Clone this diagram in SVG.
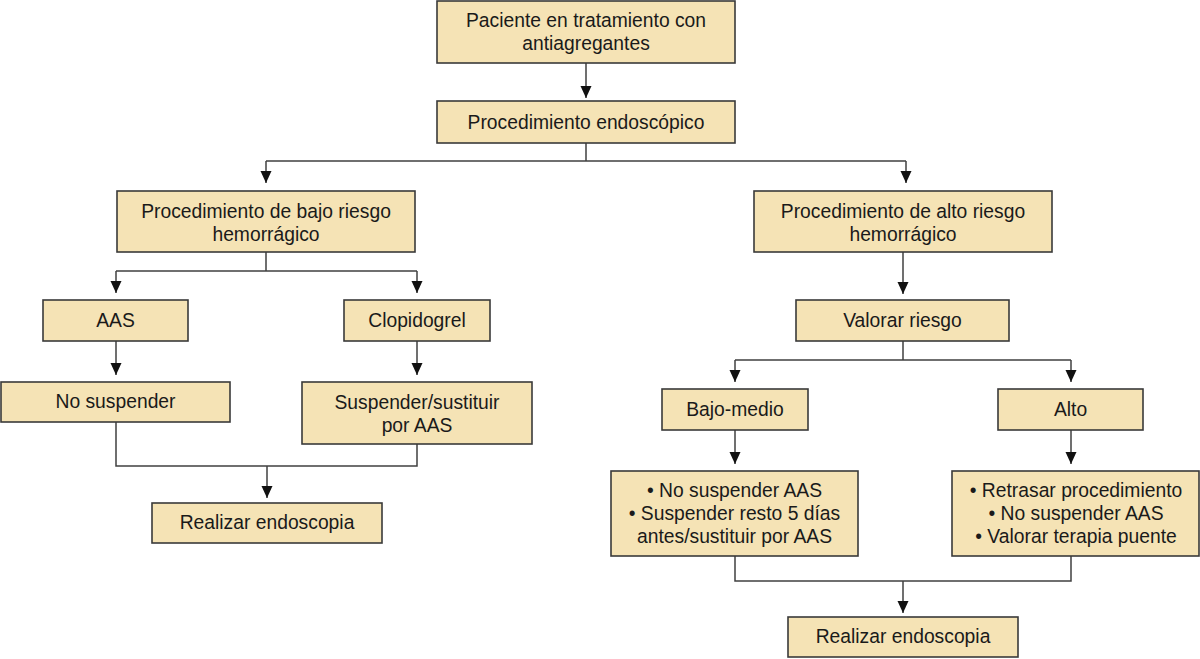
<svg xmlns="http://www.w3.org/2000/svg" width="1200" height="659" viewBox="0 0 1200 659">
<defs>
<style>
.box{fill:#f5e3b5;stroke:#3a3a3a;stroke-width:1.6}
.t{font-family:"Liberation Sans",Arial,sans-serif;font-size:19.3px;fill:#1a1a1a;text-anchor:middle}
.c{fill:none;stroke:#404040;stroke-width:1.5}
</style>
<marker id="ah" markerUnits="userSpaceOnUse" markerWidth="12" markerHeight="12" viewBox="0 0 12 12" refX="12" refY="6" orient="auto">
<path d="M0,0.5 L12,6 L0,11.5 z" fill="#111"/>
</marker>
</defs>
<rect width="1200" height="659" fill="#ffffff"/>
<g id="connectors">
<path class="c" d="M586,63 V98" marker-end="url(#ah)"/>
<path class="c" d="M586,143 V161 M266,161 H906"/>
<path class="c" d="M266,161 V183" marker-end="url(#ah)"/>
<path class="c" d="M906,161 V183" marker-end="url(#ah)"/>
<path class="c" d="M266,252 V271 M116,271 H417"/>
<path class="c" d="M116,271 V293" marker-end="url(#ah)"/>
<path class="c" d="M417,271 V293" marker-end="url(#ah)"/>
<path class="c" d="M116,341 V375" marker-end="url(#ah)"/>
<path class="c" d="M417,341 V375" marker-end="url(#ah)"/>
<path class="c" d="M116,422 V466 H417 V444"/>
<path class="c" d="M267,466 V498" marker-end="url(#ah)"/>
<path class="c" d="M903,252 V294" marker-end="url(#ah)"/>
<path class="c" d="M903,341 V360 M735,360 H1071"/>
<path class="c" d="M735,360 V382" marker-end="url(#ah)"/>
<path class="c" d="M1071,360 V382" marker-end="url(#ah)"/>
<path class="c" d="M735,430 V464" marker-end="url(#ah)"/>
<path class="c" d="M1071,430 V464" marker-end="url(#ah)"/>
<path class="c" d="M735,556 V581 H1071 V556"/>
<path class="c" d="M903,581 V613" marker-end="url(#ah)"/>
</g>
<g id="n1"><rect class="box" x="437" y="1" width="298" height="62"/><text class="t" x="586" y="26.5">Paciente en tratamiento con</text><text class="t" x="586" y="49.5">antiagregantes</text></g>
<g id="n2"><rect class="box" x="437" y="101" width="298" height="42"/><text class="t" x="586" y="128.5">Procedimiento endoscópico</text></g>
<g id="n3"><rect class="box" x="117" y="191" width="298" height="61"/><text class="t" x="266" y="217.5">Procedimiento de bajo riesgo</text><text class="t" x="266" y="240.5">hemorrágico</text></g>
<g id="n4"><rect class="box" x="754" y="191" width="298" height="61"/><text class="t" x="903" y="217.5">Procedimiento de alto riesgo</text><text class="t" x="903" y="240.5">hemorrágico</text></g>
<g id="n5"><rect class="box" x="43" y="300" width="145" height="41"/><text class="t" x="115.5" y="326.5">AAS</text></g>
<g id="n6"><rect class="box" x="344" y="300" width="146" height="41"/><text class="t" x="417" y="326.5">Clopidogrel</text></g>
<g id="n7"><rect class="box" x="1" y="382" width="229" height="40"/><text class="t" x="115.5" y="408">No suspender</text></g>
<g id="n8"><rect class="box" x="302" y="382" width="230" height="62"/><text class="t" x="417" y="408.5">Suspender/sustituir</text><text class="t" x="417" y="431.5">por AAS</text></g>
<g id="n9"><rect class="box" x="152" y="503" width="230" height="40"/><text class="t" x="267" y="529">Realizar endoscopia</text></g>
<g id="n10"><rect class="box" x="796" y="300" width="213" height="41"/><text class="t" x="902.5" y="326.5">Valorar riesgo</text></g>
<g id="n11"><rect class="box" x="662" y="389" width="146" height="41"/><text class="t" x="735" y="415.5">Bajo-medio</text></g>
<g id="n12"><rect class="box" x="998" y="389" width="145" height="41"/><text class="t" x="1070.5" y="415.5">Alto</text></g>
<g id="n13"><rect class="box" x="611" y="471" width="247" height="85"/><text class="t" x="734.5" y="496.5">• No suspender AAS</text><text class="t" x="734.5" y="519.5">• Suspender resto 5 días</text><text class="t" x="734.5" y="542.5">antes/sustituir por AAS</text></g>
<g id="n14"><rect class="box" x="952" y="471" width="247" height="85"/><text class="t" x="1076" y="496.5">• Retrasar procedimiento</text><text class="t" x="1076" y="519.5">• No suspender AAS</text><text class="t" x="1076" y="542.5">• Valorar terapia puente</text></g>
<g id="n15"><rect class="box" x="788" y="617" width="230" height="40"/><text class="t" x="903" y="643">Realizar endoscopia</text></g>
</svg>
